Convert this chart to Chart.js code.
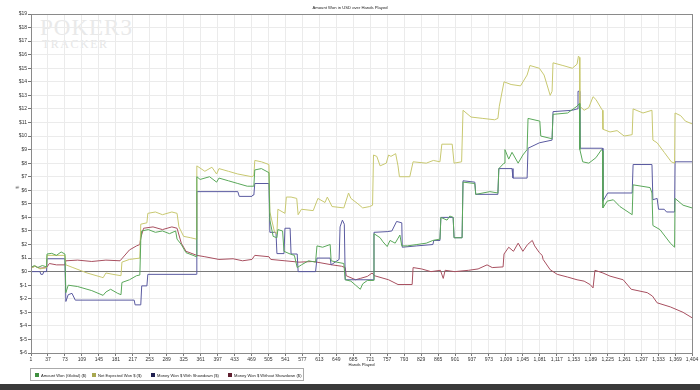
<!DOCTYPE html>
<html>
<head>
<meta charset="utf-8">
<script src="https://cdn.jsdelivr.net/npm/chart.js@4/dist/chart.umd.min.js"></script>
<style>
body{margin:0;width:700px;height:390px;position:relative;overflow:hidden;background:#fff;font-family:"Liberation Sans",Arial,sans-serif;}
#c{position:absolute;left:0;top:0;}
.t{position:absolute;font-size:4.2px;color:#222;white-space:nowrap;}
#wm1{position:absolute;left:40px;top:15px;font-family:"Liberation Serif",serif;font-size:23px;color:#e9e9e9;letter-spacing:1px;}
#wm2{position:absolute;left:42px;top:37px;font-family:"Liberation Serif",serif;font-size:12px;color:#e6e6e6;letter-spacing:1.5px;}
#legend{position:absolute;left:30px;top:368px;width:272px;height:11px;border:1px solid #aaa;font-size:4.1px;color:#222;}
#legend span.i{position:absolute;top:3.5px;white-space:nowrap;}
#legend span.s{display:inline-block;width:4px;height:4px;margin-right:2px;vertical-align:-0.5px;}
#bar{position:absolute;left:0;top:384px;width:700px;height:6px;background:#3a3a3a;}
</style>
</head>
<body>
<div id="wm1">POKER3</div>
<div id="wm2">TRACKER</div>
<canvas id="c" width="700" height="384"></canvas>
<div class="t" style="left:0;width:700px;top:5px;text-align:center;">Amount Won in USD over Hands Played</div>
<div class="t" style="left:16px;top:185px;transform:rotate(-90deg);">$</div>
<div class="t" style="left:31px;width:661px;top:362px;text-align:center;">Hands Played</div>
<div id="legend"></div>
<div id="bar"></div>
<script>
// ---- data ----
const xTicks = [1,37,73,109,145,181,217,253,289,325,361,397,433,469,505,541,577,613,649,685,721,757,793,829,865,901,937,973,1009,1045,1081,1117,1153,1189,1225,1261,1297,1333,1369,1404];
const seriesNames = ["Amount Won (Global) ($)","Net Expected Won $ ($)","Money Won $ With Showdown ($)","Money Won $ Without Showdown ($)"];

const amountWon = [[1,0.3],[8,0.45],[15,0.3],[25,0.45],[34,0.35],[35,1.3],[45,1.35],[55,1.2],[65,1.45],[73,1.3],[75,-1.55],[80,-1.0],[100,-1.1],[130,-1.4],[154,-1.75],[160,-1.5],[170,-1.3],[185,-1.6],[192,-1.7],[194,-0.8],[210,-0.6],[225,-0.3],[232,-0.25],[234,2.3],[236,3.0],[250,3.1],[265,2.9],[280,3.0],[295,2.8],[308,3.0],[311,2.4],[320,2.0],[330,1.4],[345,1.2],[352,1.1],[353,7.0],[360,6.8],[380,7.0],[395,6.6],[400,6.9],[420,6.7],[440,6.5],[460,6.3],[474,6.3],[476,7.5],[490,7.6],[506,7.3],[508,3.8],[515,2.6],[523,2.5],[525,3.1],[535,3.0],[538,1.5],[551,1.3],[560,1.2],[566,0.3],[575,0.5],[590,0.8],[605,0.7],[608,1.9],[620,1.8],[636,2.0],[638,0.8],[650,0.7],[665,0.6],[668,-0.6],[680,-0.7],[690,-1.0],[700,-1.3],[705,-0.9],[715,-0.65],[728,-0.65],[729,2.8],[742,2.5],[748,2.2],[757,1.85],[763,2.3],[774,2.1],[784,2.7],[788,1.9],[800,1.9],[820,2.0],[840,2.1],[854,2.3],[869,2.4],[871,4.0],[884,3.8],[890,4.1],[897,4.0],[899,2.5],[916,2.5],[918,6.6],[943,6.5],[945,5.7],[975,5.9],[992,5.8],[994,7.6],[1005,8.0],[1007,9.0],[1015,8.3],[1022,8.8],[1035,8.0],[1045,8.6],[1054,9.0],[1056,11.3],[1081,11.1],[1083,10.0],[1107,9.8],[1109,11.6],[1140,11.7],[1160,12.2],[1165,12.4],[1166,9.0],[1172,8.1],[1185,8.0],[1200,8.4],[1212,9.0],[1214,8.9],[1215,4.7],[1224,5.2],[1237,5.3],[1251,4.8],[1277,4.2],[1279,6.4],[1315,6.2],[1319,5.8],[1321,3.4],[1336,3.1],[1358,2.1],[1367,1.8],[1368,5.4],[1385,4.9],[1404,4.7]];

const netExpected = [[1,0.25],[10,0.4],[20,0.2],[34,0.3],[35,1.2],[73,1.2],[75,0.5],[90,0.3],[120,-0.1],[150,-0.4],[154,-0.45],[160,-0.1],[175,-0.2],[192,-0.3],[194,0.7],[210,0.9],[232,1.0],[234,3.5],[247,3.6],[249,4.3],[265,4.4],[280,4.2],[300,4.4],[311,4.3],[315,3.3],[325,2.6],[340,2.5],[352,2.4],[353,7.8],[370,7.4],[385,7.7],[395,7.2],[400,7.6],[420,7.4],[440,7.2],[470,7.0],[474,7.1],[476,8.2],[490,8.1],[506,7.9],[508,4.4],[518,2.9],[523,2.8],[525,4.6],[540,4.3],[543,5.5],[553,5.5],[565,5.4],[568,4.2],[575,4.6],[600,4.5],[610,5.4],[625,5.1],[630,5.5],[640,4.8],[665,4.7],[675,5.8],[680,5.4],[695,5.0],[705,4.7],[720,4.8],[726,4.9],[728,8.6],[735,8.5],[742,7.8],[755,8.0],[760,8.6],[765,8.5],[775,8.7],[780,7.8],[783,7.0],[805,7.0],[812,8.1],[840,8.0],[855,8.2],[869,8.1],[873,9.4],[895,9.4],[899,8.0],[915,8.1],[918,11.9],[935,11.4],[960,11.3],[985,11.2],[992,11.3],[995,12.2],[1005,14.0],[1020,13.8],[1040,13.7],[1054,14.5],[1060,15.2],[1080,15.0],[1090,14.5],[1103,13.0],[1107,13.3],[1109,15.4],[1130,15.2],[1150,15.0],[1160,15.3],[1163,15.9],[1165,15.8],[1166,12.2],[1175,11.9],[1185,12.1],[1194,12.9],[1200,12.7],[1212,12.0],[1214,11.9],[1215,10.5],[1230,10.3],[1245,10.4],[1260,10.0],[1277,10.1],[1279,12.0],[1300,11.7],[1319,11.9],[1321,9.7],[1330,9.5],[1345,8.8],[1360,8.1],[1367,8.0],[1368,11.7],[1380,11.5],[1390,11.1],[1404,10.9]];

const withShowdown = [[1,0.0],[20,0.0],[22,-0.2],[26,-0.2],[28,0.0],[34,0.0],[35,0.95],[73,0.95],[75,-2.2],[80,-1.7],[88,-1.6],[95,-2.1],[220,-2.1],[222,-2.45],[234,-2.45],[236,-1.05],[247,-1.05],[249,-0.2],[352,-0.2],[353,5.9],[440,5.9],[443,5.55],[470,5.55],[472,5.65],[474,5.65],[476,6.5],[506,6.5],[508,2.9],[521,2.9],[523,1.33],[538,1.33],[540,3.2],[551,3.2],[553,1.3],[566,1.3],[568,0.0],[605,0.0],[608,1.0],[636,1.0],[638,0.5],[655,0.9],[657,3.3],[662,3.8],[666,3.5],[668,-0.6],[728,-0.6],[729,2.9],[757,2.95],[767,3.0],[777,3.7],[788,3.6],[789,1.8],[820,1.9],[854,2.0],[856,2.3],[869,2.3],[871,4.0],[897,4.0],[899,2.5],[916,2.5],[918,6.7],[943,6.6],[945,5.7],[992,5.7],[994,7.6],[1022,7.6],[1024,6.9],[1054,6.9],[1056,9.1],[1080,9.5],[1107,9.7],[1109,11.8],[1150,11.9],[1160,12.0],[1162,13.3],[1165,13.3],[1166,9.1],[1214,9.1],[1215,5.2],[1225,5.8],[1277,5.8],[1279,7.9],[1319,7.9],[1321,5.3],[1330,5.4],[1333,4.6],[1345,4.6],[1350,4.4],[1367,4.4],[1368,8.1],[1404,8.1]];

const withoutShowdown = [[1,0.3],[10,0.4],[20,0.25],[34,0.3],[40,0.6],[55,0.5],[73,0.5],[75,0.8],[100,0.85],[130,0.75],[160,0.85],[190,0.8],[195,1.0],[210,1.6],[225,1.9],[232,2.0],[234,2.5],[240,3.2],[260,3.3],[280,3.1],[300,3.3],[311,3.2],[320,2.1],[330,1.5],[353,1.2],[370,1.1],[400,0.9],[430,0.95],[450,0.8],[470,0.9],[476,1.2],[506,1.1],[510,0.9],[540,0.8],[570,0.7],[600,0.75],[640,0.5],[660,0.4],[668,0.3],[670,-0.3],[690,-0.6],[700,-0.5],[715,-0.35],[725,-0.1],[730,-0.3],[760,-0.6],[780,-0.95],[810,-0.95],[812,0.3],[830,0.2],[850,0.0],[870,0.1],[876,-0.5],[880,0.1],[900,0.0],[930,0.1],[950,0.2],[969,0.5],[980,0.3],[1003,0.35],[1005,1.3],[1015,1.8],[1025,1.5],[1035,2.1],[1045,1.5],[1055,2.0],[1065,2.3],[1070,1.9],[1080,1.4],[1086,1.2],[1088,0.9],[1103,0.14],[1118,-0.2],[1140,-0.4],[1160,-0.6],[1175,-0.7],[1188,-0.96],[1194,-1.2],[1198,0.1],[1215,-0.1],[1230,-0.33],[1258,-0.6],[1275,-1.3],[1309,-1.55],[1320,-1.8],[1330,-2.3],[1358,-2.6],[1385,-3.0],[1404,-3.4]];

const lineColors = ["#5aa85a","#c8c870","#5a5aa0","#a85060"];
const legendColors = ["#3f8f3f","#a8a850","#202050","#602030"];
const seriesData = [amountWon, netExpected, withShowdown, withoutShowdown];

// ---- legend (HTML text) ----
const legendX = [4, 61, 120, 197];
const lg = document.getElementById('legend');
seriesNames.forEach((n,i)=>{
  const s = document.createElement('span');
  s.className='i'; s.style.left = legendX[i]+'px';
  s.innerHTML = '<span class="s" style="background:'+legendColors[i]+'"></span>'+n;
  lg.appendChild(s);
});

const frame = {
  id:'frame',
  afterDraw(chart){
    const a = chart.chartArea, ctx = chart.ctx;
    ctx.save();
    ctx.strokeStyle = '#8a8a8a'; ctx.lineWidth = 1;
    ctx.strokeRect(Math.round(a.left)+0.5, Math.round(a.top)+0.5, Math.round(a.right-a.left), Math.round(a.bottom-a.top));
    ctx.restore();
  }
};

new Chart(document.getElementById('c'), {
  type:'line',
  data:{
    datasets: seriesData.map((d,i)=>({
      label: seriesNames[i],
      data: d.map(p=>({x:p[0], y:p[1]})),
      borderColor: lineColors[i],
      backgroundColor: lineColors[i],
      borderWidth: 1,
      pointRadius: 0,
      tension: 0,
      fill: false
    }))
  },
  options:{
    responsive:false,
    animation:false,
    events:[],
    layout:{padding:{left:0,right:8,top:14,bottom:0}},
    plugins:{legend:{display:false},title:{display:false},tooltip:{enabled:false}},
    scales:{
      x:{
        type:'linear', min:1, max:1404,
        afterBuildTicks(s){ s.ticks = xTicks.map(v=>({value:v})); },
        afterFit(s){ s.height = 31; },
        ticks:{autoSkip:false, maxRotation:0, font:{size:5, family:'Liberation Sans'}, color:'#333', padding:1,
          callback:v=>v.toLocaleString('en-US')},
        grid:{color:'#ebebeb', tickColor:'#777', tickLength:3, drawTicks:true},
        border:{display:true, color:'#8a8a8a'}
      },
      y:{
        min:-6, max:19,
        afterFit(s){ s.width = 31; },
        ticks:{stepSize:1, autoSkip:false, font:{size:5, family:'Liberation Sans'}, color:'#333', padding:1,
          callback:v=>'$'+v},
        grid:{color:c=>c.tick && c.tick.value===0 ? '#7a7a7a' : '#ebebeb', tickColor:'#777', tickLength:3},
        border:{display:true, color:'#8a8a8a'}
      }
    }
  },
  plugins:[frame]
});
</script>
</body>
</html>
